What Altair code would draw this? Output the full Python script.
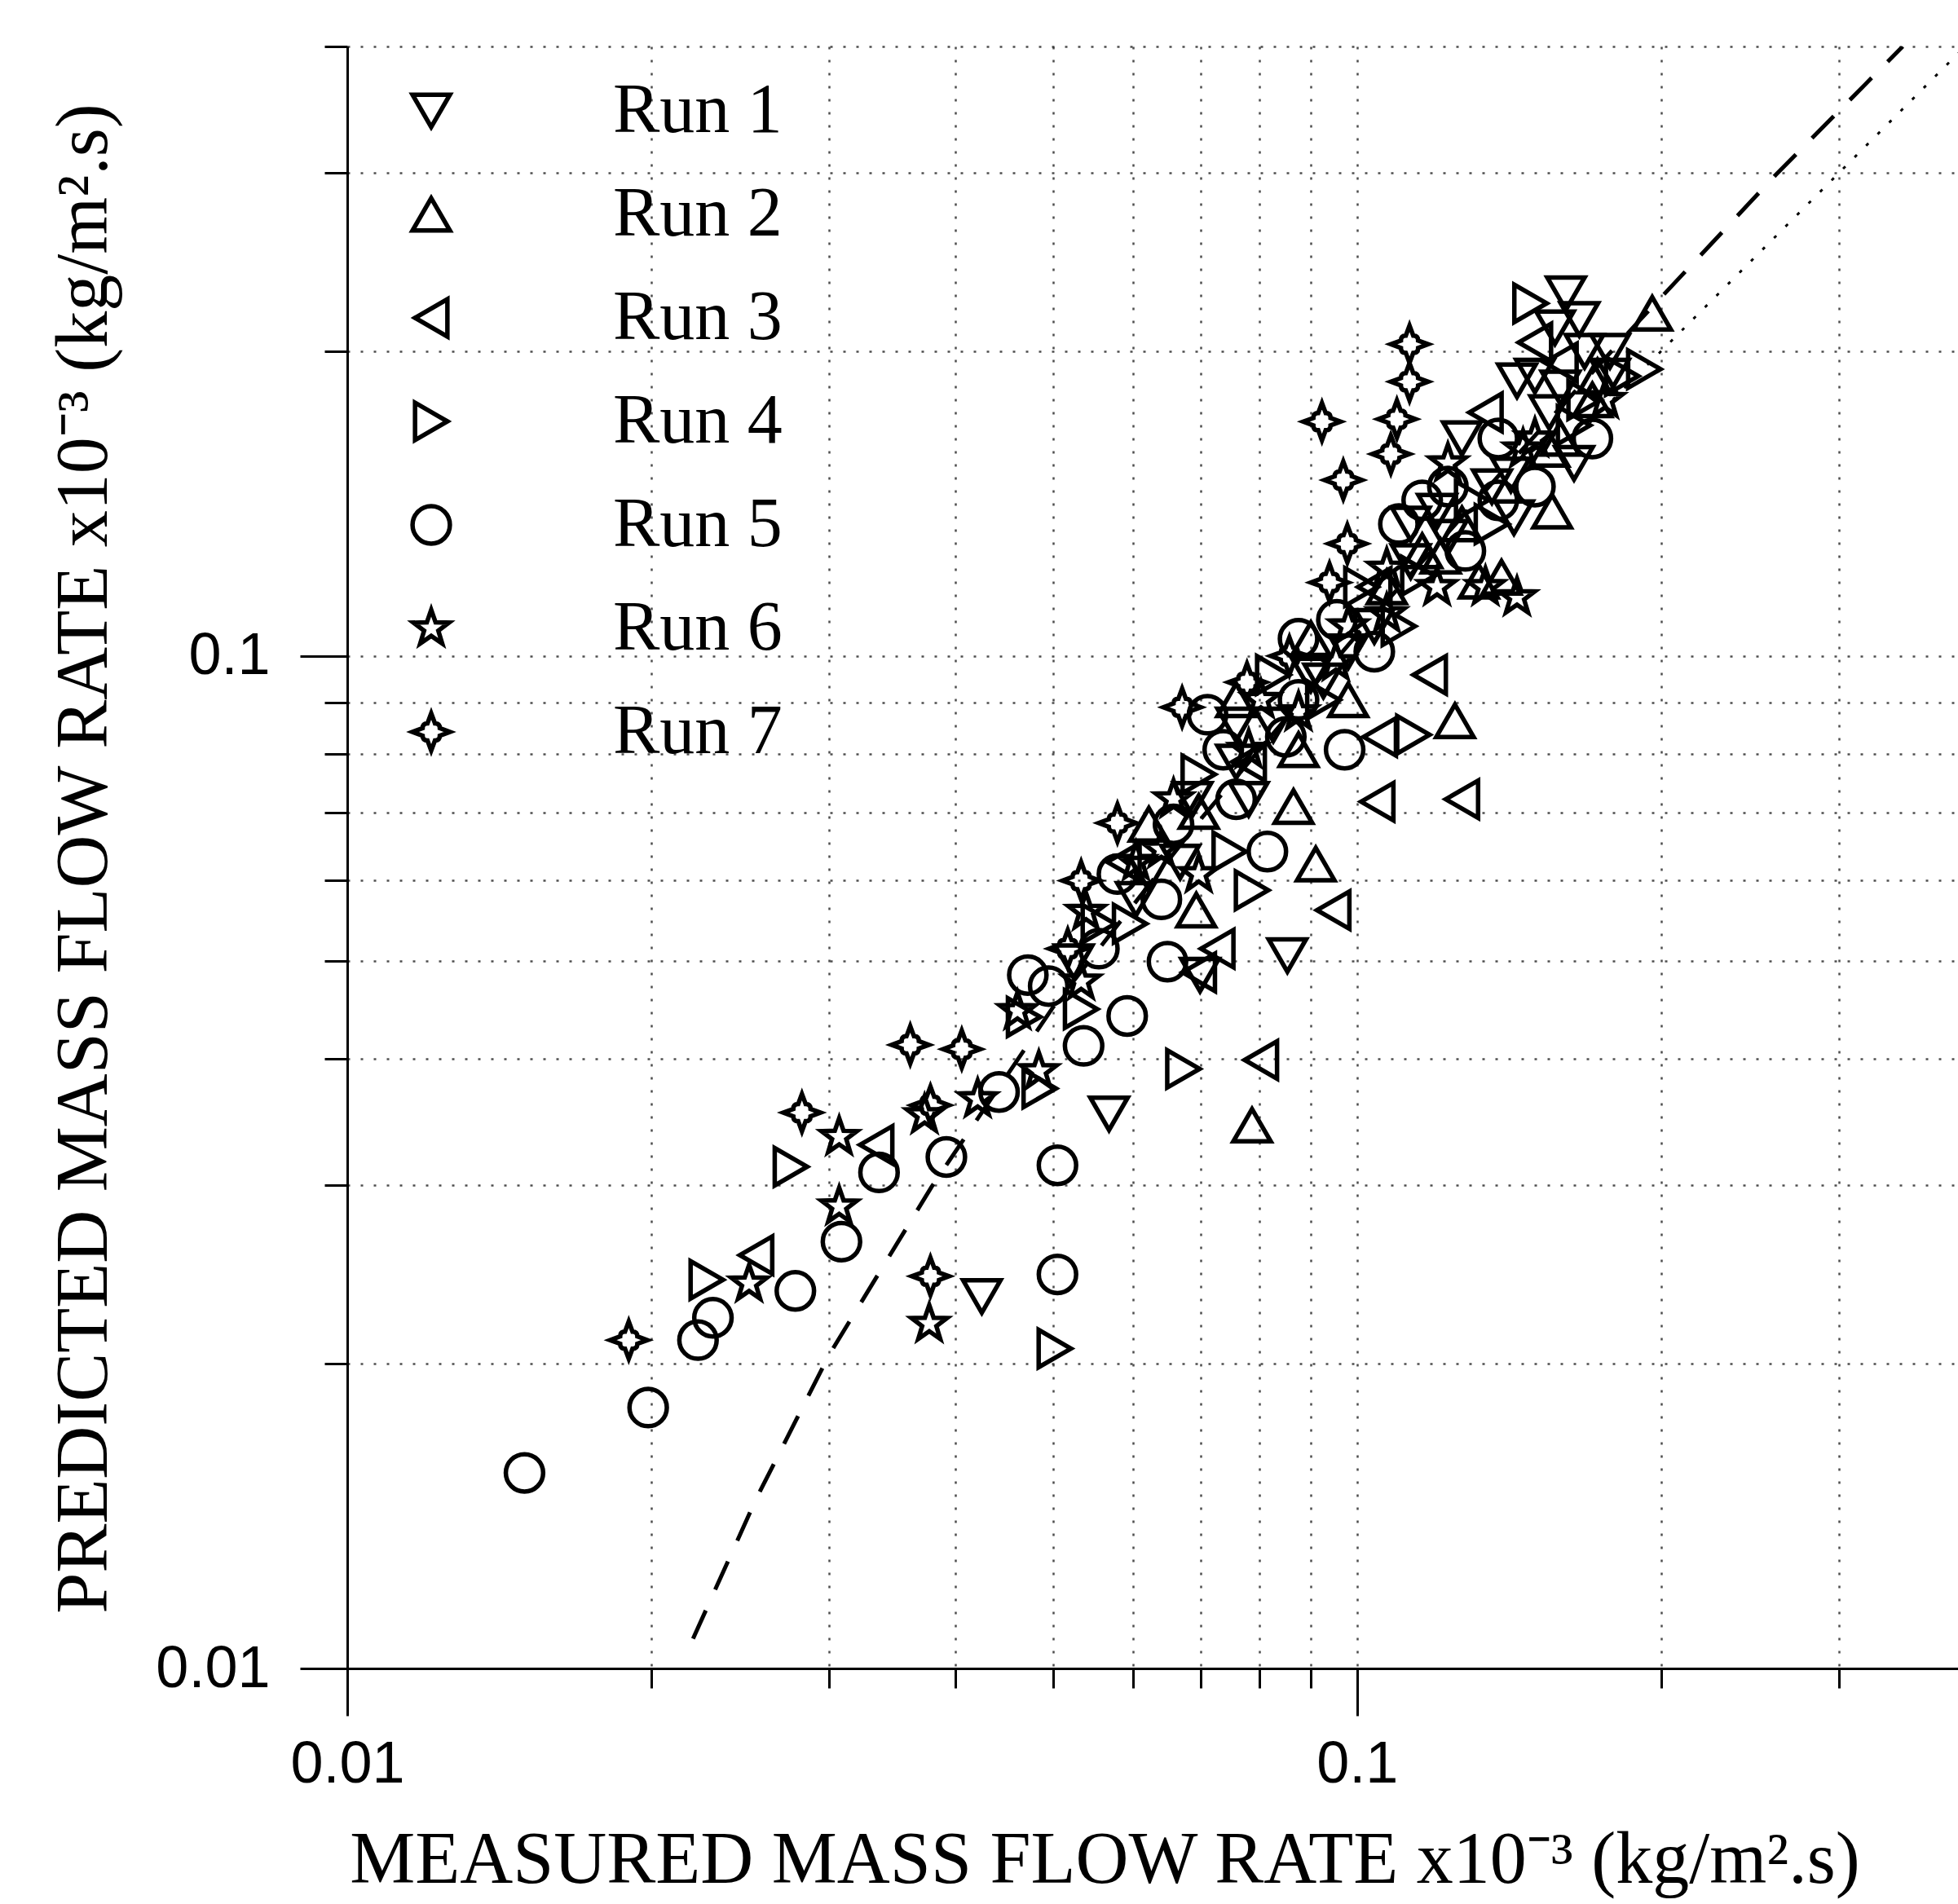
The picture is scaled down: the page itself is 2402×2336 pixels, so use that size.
import altair as alt
import pandas as pd

runs = ["Run 1", "Run 2", "Run 3", "Run 4", "Run 5", "Run 6", "Run 7"]

run1_x = [0.161, 0.166, 0.157, 0.168, 0.144, 0.178, 0.155, 0.143, 0.136, 0.123, 0.113, 0.104, 0.098, 0.0926,
          0.0826, 0.0759, 0.0668, 0.0699, 0.0853, 0.0568, 0.0425, 0.0622, 0.0781, 0.127, 0.150, 0.120, 0.142,
          0.159, 0.178, 0.113, 0.090, 0.0759, 0.0687, 0.0604, 0.0524, 0.164]
run1_y = [0.228, 0.215, 0.211, 0.200, 0.187, 0.189, 0.174, 0.137, 0.147, 0.131, 0.124, 0.107, 0.101, 0.0945,
          0.0855, 0.0786, 0.0626, 0.0484, 0.0506, 0.0353, 0.0233, 0.0609, 0.0722, 0.164, 0.189, 0.139, 0.151,
          0.184, 0.200, 0.135, 0.0958, 0.0855, 0.0722, 0.0575, 0.0499, 0.155]

run2_x = [0.196, 0.156, 0.132, 0.139, 0.125, 0.091, 0.0693, 0.0787, 0.0865, 0.159, 0.171, 0.116, 0.107, 0.0875,
          0.0697, 0.090, 0.127, 0.155, 0.173, 0.098, 0.0622, 0.0759, 0.121]
run2_y = [0.218, 0.139, 0.1185, 0.1196, 0.0863, 0.0623, 0.0561, 0.0344, 0.0710, 0.164, 0.179, 0.127, 0.117,
          0.0808, 0.0702, 0.104, 0.135, 0.160, 0.189, 0.0905, 0.0682, 0.0905, 0.1255]

run3_x = [0.150, 0.0947, 0.1047, 0.127, 0.0803, 0.0697, 0.1053, 0.118, 0.0254, 0.0334, 0.0587, 0.134, 0.159,
          0.0781, 0.104, 0.0727]
run3_y = [0.204, 0.0561, 0.0718, 0.0722, 0.0399, 0.0487, 0.0832, 0.0958, 0.0256, 0.0329, 0.0626, 0.174, 0.195,
          0.0786, 0.117, 0.0514]

run4_x = [0.1485, 0.1925, 0.1137, 0.0787, 0.0748, 0.0673, 0.0502, 0.0533, 0.0485, 0.0468, 0.0275, 0.0227, 0.168,
          0.130, 0.0926, 0.0697, 0.110, 0.0596, 0.164, 0.183, 0.101, 0.0826, 0.0555, 0.115, 0.136]
run4_y = [0.223, 0.192, 0.0836, 0.0587, 0.0641, 0.0391, 0.0207, 0.0448, 0.0374, 0.0440, 0.0313, 0.0242, 0.179,
          0.1425, 0.0905, 0.0764, 0.107, 0.0544, 0.169, 0.189, 0.117, 0.0958, 0.0544, 0.120, 0.135]

run5_x = [0.01498, 0.01986, 0.02225, 0.02302, 0.02778, 0.03086, 0.03362, 0.0392, 0.0505, 0.0505, 0.0472, 0.0592,
          0.0536, 0.0442, 0.0711, 0.0955, 0.0972, 0.0815, 0.0640, 0.0555, 0.0875, 0.110, 0.138, 0.123, 0.0759,
          0.138, 0.116, 0.104, 0.085, 0.0737, 0.0658, 0.0579, 0.0495, 0.0875, 0.128, 0.150, 0.171, 0.0649]
run5_y = [0.0156, 0.0181, 0.0211, 0.0222, 0.0236, 0.0264, 0.0309, 0.0320, 0.0314, 0.0245, 0.0484, 0.0441,
          0.0412, 0.0371, 0.0875, 0.1086, 0.0808, 0.0641, 0.0575, 0.0514, 0.0905, 0.135, 0.164, 0.147, 0.0722,
          0.1425, 0.1425, 0.101, 0.0832, 0.0808, 0.0682, 0.0609, 0.0472, 0.104, 0.127, 0.147, 0.164, 0.0499]

run6_x = [0.0307, 0.0307, 0.0250, 0.0377, 0.0373, 0.0421, 0.0461, 0.0533, 0.0484, 0.144, 0.0604, 0.0697, 0.0875,
          0.107, 0.120, 0.134, 0.150, 0.0781, 0.0658, 0.098, 0.146, 0.123, 0.0953, 0.0803, 0.0640, 0.0539, 0.107,
          0.176]
run6_y = [0.0335, 0.0286, 0.0240, 0.0219, 0.0352, 0.0365, 0.0446, 0.0477, 0.0389, 0.1143, 0.0626, 0.0609, 0.0880,
          0.122, 0.117, 0.117, 0.164, 0.0808, 0.0722, 0.107, 0.160, 0.155, 0.0986, 0.0905, 0.0644, 0.0559, 0.110,
          0.179]

run7_x = [0.1127, 0.1127, 0.0923, 0.1095, 0.1080, 0.0969, 0.0978, 0.0939, 0.0857, 0.0778, 0.0671, 0.0579, 0.0533,
          0.0517, 0.0406, 0.0361, 0.0378, 0.0282, 0.0190, 0.0378]
run7_y = [0.2032, 0.1866, 0.1704, 0.1714, 0.1583, 0.1492, 0.1291, 0.1182, 0.1000, 0.0942, 0.0890, 0.0684, 0.0600,
          0.0514, 0.0409, 0.0413, 0.0360, 0.0354, 0.0211, 0.0244]

# dashed correlation curve
curve_x = [0.0220, 0.0254, 0.0300, 0.0379, 0.050, 0.070, 0.100, 0.140, 0.190, 0.260, 0.347]
curve_y = [0.0107, 0.0147, 0.0204, 0.0299, 0.045, 0.069, 0.105, 0.153, 0.214, 0.299, 0.400]

# dotted 1:1 line (visible part)
diag_x = [0.170, 0.394]
diag_y = [0.170, 0.394]

x_ticks = [0.01, 0.02, 0.03, 0.04, 0.05, 0.06, 0.07, 0.08, 0.09, 0.1, 0.2, 0.3]
y_ticks = [0.01, 0.02, 0.03, 0.04, 0.05, 0.06, 0.07, 0.08, 0.09, 0.1, 0.2, 0.3, 0.4]
x_domain = [0.01, 0.3936]
y_domain = [0.01, 0.40]

x_title = "MEASURED MASS FLOW RATE x10\u207b\u00b3 (kg/m\u00b2.s)"
y_title = "PREDICTED MASS FLOW RATE x10\u207b\u00b3 (kg/m\u00b2.s)"

STAR = ("M0,-1L0.235,-0.324L0.951,-0.309L0.38,0.124L0.588,0.809L0,0.4L-0.588,0.809"
        "L-0.38,0.124L-0.951,-0.309L-0.235,-0.324Z")
SPARK = ("M0,-1L0.2,-0.46Q0.46,-0.46 0.46,-0.2L1,0L0.46,0.2Q0.46,0.46 0.2,0.46L0,1"
         "L-0.2,0.46Q-0.46,0.46 -0.46,0.2L-1,0L-0.46,-0.2Q-0.46,-0.46 -0.2,-0.46Z")
shape_range = ["triangle-down", "triangle-up", "triangle-left", "triangle-right", "circle", STAR, SPARK]

xs = [run1_x, run2_x, run3_x, run4_x, run5_x, run6_x, run7_x]
ys = [run1_y, run2_y, run3_y, run4_y, run5_y, run6_y, run7_y]
rows = []
for name, xl, yl in zip(runs, xs, ys):
    for a, b in zip(xl, yl):
        rows.append({"x": a, "y": b, "run": name})
df = pd.DataFrame(rows)
curve_df = pd.DataFrame({"x": curve_x, "y": curve_y})
diag_df = pd.DataFrame({"x": diag_x, "y": diag_y})

xscale = alt.Scale(type="log", domain=x_domain, nice=False)
yscale = alt.Scale(type="log", domain=y_domain, nice=False)

major_test = "abs(datum.value-0.1)<1e-9 || abs(datum.value-0.01)<1e-9"
label_expr = "abs(datum.value-0.1)<1e-9 ? '0.1' : (abs(datum.value-0.01)<1e-9 ? '0.01' : '')"

x_axis = alt.Axis(
    values=x_ticks, labelExpr=label_expr, labelFlush=False, labelOverlap=False,
    labelFont="Liberation Sans", labelFontSize=72, labelColor="black", labelPadding=24,
    tickSize={"condition": {"test": major_test, "value": 58}, "value": 24},
    tickColor="black", tickWidth=3, domainColor="black", domainWidth=3,
    grid=True, gridColor="#222222", gridDash=[3, 13], gridWidth=2.5, gridOpacity=0.8,
    title=x_title, titleFont="Liberation Serif", titleFontSize=90, titleFontWeight="normal",
    titleColor="black", titleX=929, titleY=262, titleAlign="center", titleBaseline="alphabetic",
)
y_axis = alt.Axis(
    values=y_ticks, labelExpr=label_expr, labelFlush=False, labelOverlap=False,
    labelFont="Liberation Sans", labelFontSize=72, labelColor="black", labelPadding=37,
    tickSize={"condition": {"test": major_test, "value": 58}, "value": 28},
    tickColor="black", tickWidth=3, domainColor="black", domainWidth=3,
    grid=True, gridColor="#222222", gridDash=[3, 13], gridWidth=2.5, gridOpacity=0.8,
    title=y_title, titleFont="Liberation Serif", titleFontSize=90, titleFontWeight="normal",
    titleColor="black", titleX=-296, titleY=996, titleAngle=270, titleAlign="center",
    titleBaseline="alphabetic",
)

xenc = alt.X("x:Q", scale=xscale, axis=x_axis)
yenc = alt.Y("y:Q", scale=yscale, axis=y_axis)

curve = alt.Chart(curve_df).mark_line(color="black", strokeWidth=5, strokeDash=[38, 28], clip=True).encode(
    x=xenc, y=yenc, order=alt.Order("x:Q"),
)
diag = alt.Chart(diag_df).mark_line(color="black", strokeWidth=3, strokeDash=[4, 16], clip=True).encode(
    x=xenc, y=yenc,
)
pts = alt.Chart(df).mark_point(filled=False, color="black", strokeWidth=5.5, size=2100, opacity=1).encode(
    x=xenc,
    y=yenc,
    shape=alt.Shape(
        "run:N",
        scale=alt.Scale(domain=runs, range=shape_range),
        legend=alt.Legend(
            title=None, orient="none", legendX=60, legendY=36, padding=0,
            symbolSize=2100, symbolStrokeWidth=5.5, symbolStrokeColor="black",
            symbolFillColor="transparent", symbolOpacity=1,
            labelFont="Liberation Serif", labelFontSize=86, labelColor="black",
            labelOffset=180, rowPadding=41, labelLimit=0,
        ),
    ),
)

chart = alt.layer(pts, curve, diag).properties(
    width=1976, height=1990,
    autosize=alt.AutoSizeParams(type="none"),
    padding={"left": 426, "top": 57, "right": 0, "bottom": 289},
    background="white",
).configure_view(strokeWidth=0)

chart.save("out.html", embed_options={"renderer": "svg", "actions": False})
